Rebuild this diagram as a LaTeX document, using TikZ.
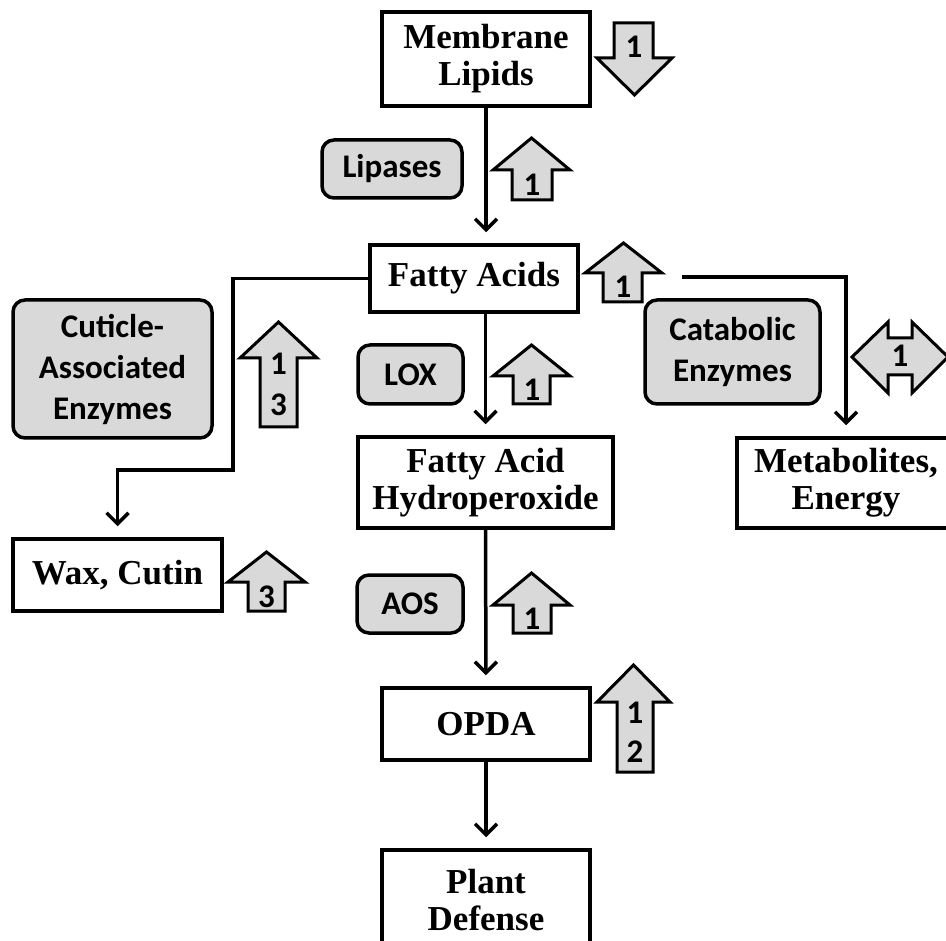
\documentclass[tikz,border=0pt]{standalone}
\usepackage{fontspec}
\setmainfont{Liberation Serif}
\newfontfamily\sansf{Carlito}
\usetikzlibrary{arrows.meta}
\definecolor{boxgray}{HTML}{D9D9D9}
\tikzset{
 serifbox/.style={draw, line width=3.5pt, fill=white, font=\fontsize{35}{37}\selectfont\bfseries, align=center, inner sep=0pt},
 graybox/.style={draw, line width=3.5pt, fill=boxgray, rounded corners=12pt, font=\sansf\fontsize{33}{41}\selectfont\bfseries, align=center, inner sep=0pt},
 blockarr/.style={draw, line width=3pt, fill=boxgray, line join=miter},
 digit/.style={font=\sansf\fontsize{33}{40}\selectfont\bfseries, inner sep=0pt},
 conn/.style={line width=3.5pt, -{Straight Barb[length=11pt,width=22pt]}, shorten >=11pt},
}
\begin{document}
\begin{tikzpicture}[x=1pt,y=-1pt]
\clip (0,0) rectangle (946,941);
\fill[white] (0,0) rectangle (946,941);

% main boxes
\node[serifbox, minimum width=208pt, minimum height=94pt] (ml) at (486,59) {Membrane\\Lipids};
\node[serifbox, minimum width=208pt, minimum height=67pt] (fa) at (474,278.5) {Fatty Acids};
\node[serifbox, minimum width=255pt, minimum height=91pt] (fah) at (485.5,482.5) {Fatty Acid\\Hydroperoxide};
\node[serifbox, minimum width=208pt, minimum height=72pt] (opda) at (486,724) {OPDA};
\node[serifbox, minimum width=208pt, minimum height=100pt] (pd) at (486,900) {Plant\\Defense};
\node[serifbox, minimum width=209pt, minimum height=72pt] (wax) at (117.5,575) {Wax, Cutin};
\node[serifbox, minimum width=218pt, minimum height=90pt] (met) at (846,483) {Metabolites,\\Energy};

% enzyme boxes
\node[graybox, minimum width=140pt, minimum height=58pt] (lip) at (392,169) {Lipases};
\node[graybox, minimum width=105pt, minimum height=59pt] (lox) at (410.5,374.5) {LOX};
\node[graybox, minimum width=106pt, minimum height=58pt] (aos) at (410,604) {AOS};
\node[graybox, minimum width=175pt, minimum height=104pt] (cat) at (732.5,352) {Catabolic\\Enzymes};
\node[graybox, minimum width=199pt, minimum height=138pt] (cut) at (112.5,369) {Cuticle-\\Associated\\Enzymes};

% connectors
\coordinate (c1) at (233,470);
\coordinate (c2) at (682,277);
\draw[conn] (ml.south) -- (ml.south |- fa.north);
\draw[conn] (fa.south -| fah.north) -- (fah.north);
\draw[conn] (fah.south) -- (opda.north);
\draw[conn] (opda.south) -- (pd.north);
\draw[conn] (fa.west) -| (c1) -| (wax.north);
\draw[conn] (c2) -| (met.north);

% block arrows
% down arrow near membrane lipids
\draw[blockarr] (614,23) -- (653,23) -- (653,58) -- (672,58) -- (634.5,95) -- (597,58) -- (614,58) -- cycle;
\node[digit] (d1) at (634,47) {1};
% lipases
\draw[blockarr] (512,200) -- (552,200) -- (552,170) -- (570,170) -- (531.5,138) -- (493,170) -- (512,170) -- cycle;
\node[digit] (d2) at (532,185) {1};
% fatty acids
\draw[blockarr] (603,302) -- (642,302) -- (642,273) -- (662,273) -- (623.5,243) -- (585,273) -- (603,273) -- cycle;
\node[digit] (d3) at (623,287) {1};
% lox
\draw[blockarr] (513,404) -- (550,404) -- (550,376) -- (570,376) -- (531.5,345) -- (493,376) -- (513,376) -- cycle;
\node[digit] (d4) at (532,390) {1};
% aos
\draw[blockarr] (513,633) -- (551,633) -- (551,605) -- (570,605) -- (531.5,573) -- (493,605) -- (513,605) -- cycle;
\node[digit] (d5) at (532,619) {1};
% opda (tall)
\draw[blockarr] (617,772) -- (653,772) -- (653,702) -- (670,702) -- (633.5,665) -- (597,702) -- (617,702) -- cycle;
\node[digit] (d6) at (635,713) {1};
\node[digit] (d7) at (635,752) {2};
% cuticle (tall)
\draw[blockarr] (260,427) -- (297,427) -- (297,358) -- (317,358) -- (278.5,322) -- (240,358) -- (260,358) -- cycle;
\node[digit] (d8) at (278.5,364) {1};
\node[digit] (d9) at (278.5,405) {3};
% wax
\draw[blockarr] (248,611) -- (285,611) -- (285,582) -- (305,582) -- (266.5,552) -- (228,582) -- (248,582) -- cycle;
\node[digit] (d10) at (266.5,597) {3};
% double arrow
\draw[blockarr] (852,357) -- (888,322) -- (888,338) -- (912,338) -- (912,322) -- (948,357) -- (912,393) -- (912,375) -- (888,375) -- (888,393) -- cycle;
\node[digit] (d11) at (900,356) {1};
\end{tikzpicture}
\end{document}
